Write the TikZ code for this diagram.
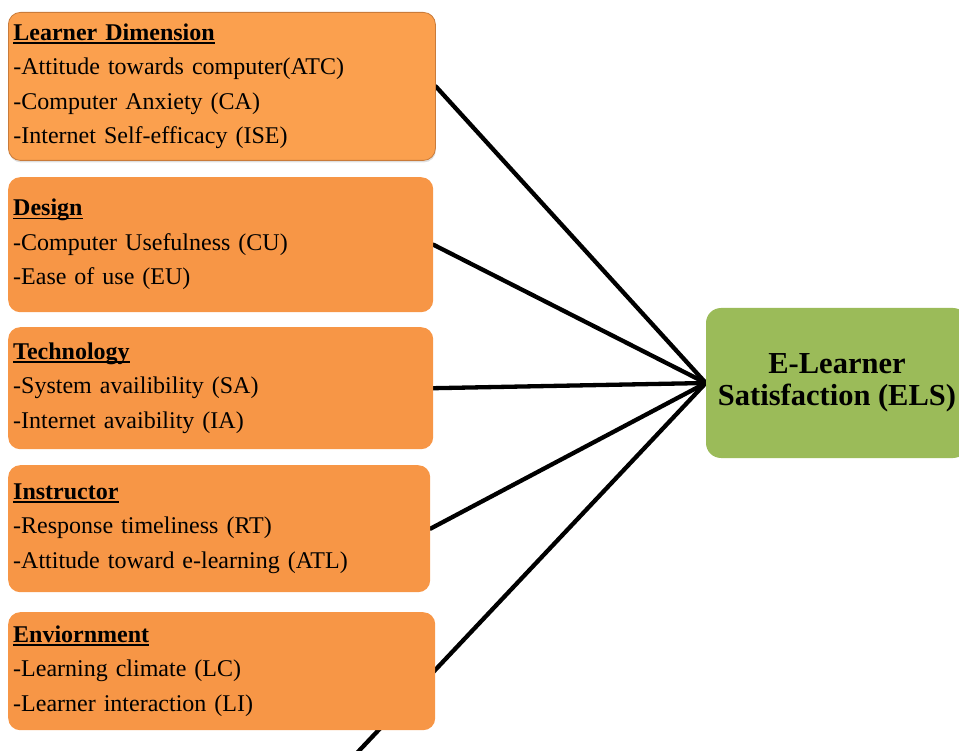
\documentclass[tikz,border=0pt]{standalone}
\usepackage{fontspec}
\setmainfont{Liberation Serif}
\usetikzlibrary{backgrounds,shadows}
\definecolor{boxorange}{HTML}{F79646}
\definecolor{boxorangelight}{HTML}{FBA04E}
\definecolor{boxedge}{HTML}{C97B3A}
\definecolor{elsgreen}{HTML}{9BBB59}
\newcommand{\ulhead}[1]{\setbox0\hbox{\bfseries #1}\rlap{\rule[-3.5pt]{\wd0}{1.8pt}}\box0}
\begin{document}
\begin{tikzpicture}[x=1pt,y=-1pt,
  factorbox/.style={rectangle, rounded corners=12pt, fill=boxorange, anchor=north west,
    align=left, inner xsep=5pt, inner ysep=0pt, font=\fontsize{24}{34.5}\selectfont},
  outcomebox/.style={rectangle, rounded corners=15pt, fill=elsgreen, align=center,
    inner sep=0pt, font=\bfseries\fontsize{30.5}{32}\selectfont},
  link/.style={line width=4.3pt, black, line cap=round}]
\useasboundingbox (0,0) rectangle (959,751);
\node[factorbox, minimum width=427pt, text width=417pt, minimum height=148pt,
  fill=boxorangelight, draw=boxedge, line width=0.8pt,
  drop shadow={opacity=0.25, shadow xshift=0.5pt, shadow yshift=-2pt}] (ld) at (8,12)
  {\ulhead{Learner Dimension}\\-Attitude towards computer(ATC)\\-Computer Anxiety (CA)\\-Internet Self-efficacy (ISE)};
\node[factorbox, minimum width=425pt, text width=415pt, minimum height=135pt] (des) at (8,177)
  {\ulhead{Design}\\-Computer Usefulness (CU)\\-Ease of use (EU)};
\node[factorbox, minimum width=425pt, text width=415pt, minimum height=122pt] (tech) at (8,327)
  {\ulhead{Technology}\\-System availibility (SA)\\-Internet avaibility (IA)};
\node[factorbox, minimum width=422pt, text width=412pt, minimum height=127pt] (ins) at (8,465)
  {\ulhead{Instructor}\\-Response timeliness (RT)\\-Attitude toward e-learning (ATL)};
\node[factorbox, minimum width=427pt, text width=417pt, minimum height=118pt] (env) at (8,612)
  {\ulhead{Enviornment}\\-Learning climate (LC)\\-Learner interaction (LI)};
\node[outcomebox, minimum width=262pt, minimum height=150pt] (els) at (837,383)
  {E-Learner\\Satisfaction (ELS)};
\coordinate (below) at (356,754);
\begin{pgfonlayer}{background}
\draw[link] (ld.east) -- (els.west);
\draw[link] (des.east) -- (els.west);
\draw[link] (tech.east) -- (els.west);
\draw[link] (ins.east) -- (els.west);
\draw[link] (below) -- (els.west);
\end{pgfonlayer}
\end{tikzpicture}
\end{document}
